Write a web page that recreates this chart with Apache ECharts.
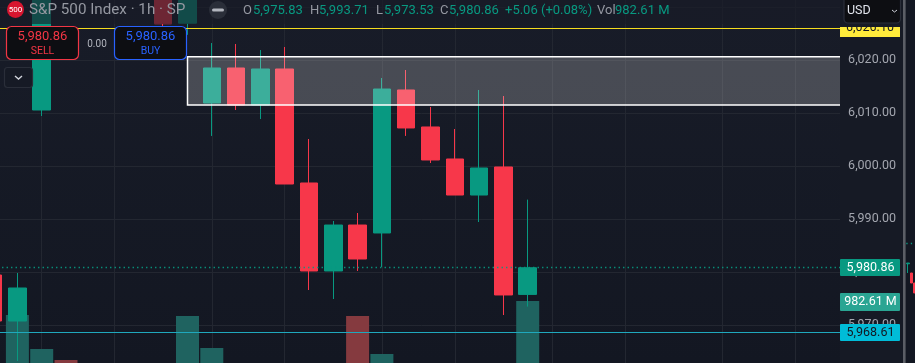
<!DOCTYPE html>
<html><head><meta charset="utf-8">
<style>html,body{margin:0;padding:0;background:#131722}#c{width:915px;height:363px}</style>
<script src="https://cdn.jsdelivr.net/npm/echarts@6/dist/echarts.min.js"></script>
</head><body><div id="c"></div>
<script>
// [open, close, low, high]
const ohlc = [
 [5979.49,5970.81,5970.2,5980.1],
 [5970.81,5977.04,5963.26,5979.87],
 [6010.62,6033.5,6009.49,6034.5],
 null,null,null,null,
 [6035.0,6026.9,6026.3,6036.0],
 [6027.0,6036.0,6024.8,6037.0],
 [6011.94,6018.55,6005.72,6023.26],
 [6018.55,6011.57,6010.62,6023.08],
 [6011.57,6018.36,6008.92,6021.94],
 [6018.36,5996.66,5996.66,6022.51],
 [5996.85,5980.25,5976.66,6005.15],
 [5980.25,5988.92,5974.96,5989.68],
 [5988.92,5982.51,5980.25,5991.19],
 [5987.42,6014.58,5981.0,6016.66],
 [6014.4,6007.23,6005.73,6018.17],
 [6007.42,6001.19,6000.62,6011.19],
 [6001.38,5994.58,5994.58,6007.04],
 [5994.58,5999.68,5989.49,6014.4],
 [5999.87,5975.72,5971.94,6013.26],
 [5975.83,5980.86,5973.53,5993.71]
];
// volume in millions
const volumes = [null,760,222,48,null,null,null,null,745,238,null,null,null,null,null,745,143,null,null,null,null,null,982.61];
const volumeDown = [3,15];
const categories = ohlc.map((_,i)=>String(i));
while(categories.length<36) categories.push(String(categories.length));
const extraCount = categories.length-ohlc.length;
const candleData = ohlc.concat(new Array(extraCount).fill(null)).map(d=>d||['-','-','-','-']);
const gridTicks = [2,5,9,12,16,19,23,26,30,33];
const priceTicks = [5970,5980,5990,6000,6010,6020];
const lastPrice = 5980.86, yellowLevel = 6026.1, cyanLevel = 5968.61;
const boxTop = 6020.68, boxBottom = 6011.57, boxStart = '8';
// fragment of the neighbouring chart at the far right edge
const sideCategories = ['a','b','c'];
const sideOhlc = [[5981.6,5981.75,5979.87,5981.75],[5979.87,5977.98,5977.98,5979.87],[5977.98,5976.1,5976.1,5977.98]];
const sideLast = 5985.5;

const UP='#089981', DOWN='#F7374A', GRID='#232731', TXT='#b2b5be';
const FONT='Roboto,"Liberation Sans",Arial,sans-serif';
const X0=-6.9, BAND=24.3, GTOP=-45.7, GH=424;
const fmt=v=>v.toLocaleString('en-US',{minimumFractionDigits:2,maximumFractionDigits:2});

const chart=echarts.init(document.getElementById('c'),null,{renderer:'canvas'});
function txt(x,y,t,fill,size,extra){return {type:'text',z:30,silent:true,style:{x,y,text:t,fill,font:`${size}px ${FONT}`,textVerticalAlign:'middle',textAlign:(extra&&extra.align)||'left'}};}
function box(x,y,w,h,fill,stroke,r,z){return {type:'rect',z:z||28,silent:true,shape:{x,y,width:w,height:h,r:r||0},style:{fill,stroke:stroke||null,lineWidth:stroke?1.2:0}};}

const header=[
 box(0,0,840,24,'rgba(24,28,39,0.62)',null,0,20),
 box(840,0,63,363,'#161a25',null,0,8),
 box(906,0,9,363,'#131722',null,0,1),
 {type:'circle',z:30,silent:true,shape:{cx:15.5,cy:9.5,r:8.5},style:{fill:'#d7152f'}},
 txt(15.5,9.5,'500','#fff',8,{align:'center'}),
 txt(29,10.5,'S&P 500 Index · 1h · SP','#9598a1',15.2),
 {type:'circle',z:30,silent:true,shape:{cx:218,cy:10,r:9},style:{fill:'#2a2e39'}},
 box(212,8.5,12,3,'#b2b5be',null,1.5,31),
 txt(243,10.5,'O','#9598a1',13),txt(253,10.5,'5,975.83',UP,13),
 txt(310,10.5,'H','#9598a1',13),txt(319,10.5,'5,993.71',UP,13),
 txt(376,10.5,'L','#9598a1',13),txt(384,10.5,'5,973.53',UP,13),
 txt(440,10.5,'C','#9598a1',13),txt(449,10.5,'5,980.86',UP,13),
 txt(505,10.5,'+5.06 (+0.08%)',UP,13),
 txt(597,10.5,'Vol','#9598a1',13),txt(615,10.5,'982.61 M',UP,13),
 box(6.5,26.5,72,33,'#0d0e12','#f23645',5),
 txt(42.5,36.5,'5,980.86','#f23645',13,{align:'center'}),
 txt(42.5,51,'SELL','#f23645',10.5,{align:'center'}),
 txt(97,44,'0.00','#b2b5be',10,{align:'center'}),
 box(114.5,26.5,72,33,'#0d0e12','#2962ff',5),
 txt(150.5,36.5,'5,980.86','#2962ff',13,{align:'center'}),
 txt(150.5,51,'BUY','#2962ff',10.5,{align:'center'}),
 box(4.5,67.5,28,20,'#161a25','#2a2e39',3),
 {type:'polyline',z:30,silent:true,shape:{points:[[15,76],[18.5,79],[22,76]]},style:{stroke:'#d1d4dc',lineWidth:1.4,fill:null}},
 box(844,-4,56.5,27,'#0d0e12','#2a2e39',4),
 txt(847,11,'USD','#e0e3eb',12.5),
 {type:'polyline',z:30,silent:true,shape:{points:[[892,10],[894.5,12],[897,10]]},style:{stroke:'#d1d4dc',lineWidth:1,fill:null}},
 box(903,0,2.6,363,'#5b5e66',null,0,29)
];
function tag(y,h,fill,t,col){
 return [box(840,y-h/2,60,h,fill,null,1,24),
  Object.assign(txt(870.5,y,t,col,12.5,{align:'center'}),{z:25})];
}
const tags=[].concat(
 tag(267.5,17,UP,'5,980.86','#fff'),
 tag(302,18,'#2aa593','982.61 M','#fff'),
 tag(332.5,17,'#00bcd8','5,968.61','#131722'),
 [box(840,27,60,10,'#ffeb3b',null,0,24),
  {type:'text',z:26,silent:true,style:{x:870,y:28,text:'6,026.10',fill:'#131722',font:`12.5px ${FONT}`,textAlign:'center',textVerticalAlign:'middle'}},
  box(840,18,63,9,'#161a25',null,0,27)]
);

const noAxis={axisLine:{show:false},axisTick:{show:false},axisLabel:{show:false}};
chart.setOption({
 animation:false,
 backgroundColor:new echarts.graphic.LinearGradient(0,0,0,1,[{offset:0,color:'#181c28'},{offset:1,color:'#131722'}]),
 grid:[
  {left:X0,top:GTOP,width:BAND*35,height:GH,outerBoundsMode:'none'},
  {left:X0,top:0,width:BAND*35,height:363,outerBoundsMode:'none'},
  {left:906.3,top:GTOP,width:9.9,height:GH,outerBoundsMode:'none'}
 ],
 xAxis:[
  {type:'category',gridIndex:0,data:categories,boundaryGap:false,...noAxis,
   splitLine:{show:true,interval:(i)=>gridTicks.includes(i),lineStyle:{color:GRID,width:1}}},
  {type:'category',gridIndex:1,data:categories,boundaryGap:false,...noAxis,splitLine:{show:false}},
  {type:'category',gridIndex:2,data:sideCategories,...noAxis,splitLine:{show:false}}
 ],
 yAxis:[
  {type:'value',gridIndex:0,min:5960,max:6040,interval:10,...noAxis,position:'right',
   splitLine:{show:true,lineStyle:{color:GRID,width:1}}},
  {type:'value',gridIndex:0,min:5960,max:6040,interval:10,position:'right',z:12,axisLine:{show:false},axisTick:{show:false},
   axisLabel:{show:true,margin:4.5,color:'#a3a6af',fontFamily:'Roboto',fontSize:12.5,
     formatter:v=>priceTicks.includes(v)?fmt(v):''},
   splitLine:{show:false}},
  {type:'value',gridIndex:1,min:0,max:5750,show:false,splitLine:{show:false}},
  {type:'value',gridIndex:2,min:5960,max:6040,interval:10,show:false,splitLine:{show:false}}
 ],
 series:[
  {type:'bar',name:'Volume',xAxisIndex:1,yAxisIndex:2,z:2,barWidth:23,
   data:volumes.map((v,i)=>({value:v,itemStyle:{color:volumeDown.includes(i)?'#853a3f':'#1f6360'}}))},
  {type:'candlestick',name:'SPX',xAxisIndex:0,yAxisIndex:0,z:3,barWidth:18,data:candleData,
   itemStyle:{color:UP,color0:DOWN,borderColor:UP,borderColor0:DOWN,borderWidth:1},
   markArea:{silent:true,z:4,itemStyle:{color:'rgba(255,255,255,0.21)',borderColor:'#ffffff',borderWidth:1.5},
     data:[[{xAxis:boxStart,yAxis:boxTop},{xAxis:'35',yAxis:boxBottom}]]},
   markLine:{silent:true,z:5,symbol:'none',label:{show:false},animation:false,
     data:[
      {yAxis:yellowLevel,lineStyle:{color:'#f5dc1e',width:1.2,type:'solid'}},
      {yAxis:cyanLevel,lineStyle:{color:'#1fa8bd',width:1.2,type:'solid'}},
      {yAxis:lastPrice,lineStyle:{color:UP,width:1.3,type:[1.3,3.2]}}
     ]}},
  {type:'candlestick',name:'Side',xAxisIndex:2,yAxisIndex:3,z:3,barWidth:3,data:sideOhlc,
   itemStyle:{color:UP,color0:DOWN,borderColor:UP,borderColor0:DOWN,borderWidth:1},
   markLine:{silent:true,symbol:'none',label:{show:false},animation:false,
     data:[{yAxis:sideLast,lineStyle:{color:UP,width:1.3,type:[1.3,3.2]}}]}}
 ],
 graphic:{elements:header.concat(tags)}
});
</script></body></html>
